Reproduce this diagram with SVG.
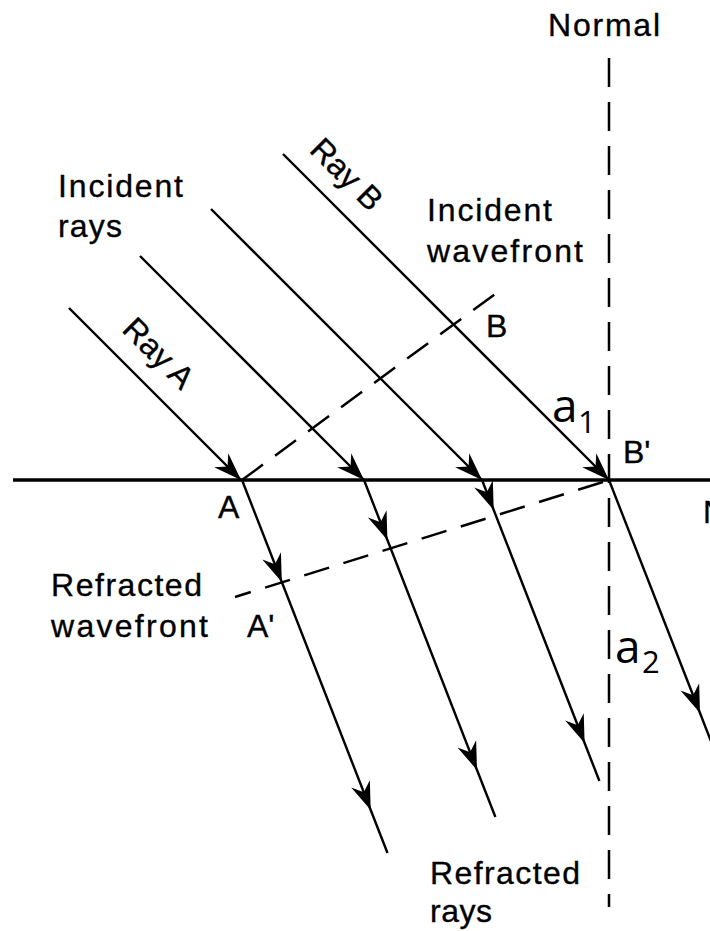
<svg xmlns="http://www.w3.org/2000/svg" width="710" height="931" viewBox="0 0 710 931">
<style>
  .ray{stroke:#000;stroke-width:2.4;fill:none}
  .wf{stroke:#000;stroke-width:2.5;fill:none;stroke-dasharray:26 15}
  .nrm{stroke:#000;stroke-width:2.5;fill:none;stroke-dasharray:29 15}
  .surf{stroke:#000;stroke-width:3.5;fill:none}
  .lbl{font-family:"Liberation Sans",Arial,Helvetica,sans-serif;font-size:32px;fill:#000;stroke:#000;stroke-width:0.35}
  .ang{font-family:"Open Sans","Noto Sans",sans-serif;fill:#000}
</style>
<defs>
  <marker id="ah" markerUnits="userSpaceOnUse" markerWidth="32" markerHeight="24" viewBox="-30 -12 32 24" refX="0" refY="0" orient="auto">
    <path d="M0,0 L-28,-10 L-19,0 L-28,10 Z" fill="#000"/>
  </marker>
</defs>
<rect width="710" height="931" fill="#fff"/>
<g id="connectors">
  <path id="interface" class="surf" d="M13,480 L710,480"/>
  <path id="normal" class="nrm" d="M609,58 L609,907"/>
  <path id="incident-wavefront" class="wf" d="M242,480 L506,286"/>
  <path id="refracted-wavefront" class="wf" d="M603,482 L235,597"/>
  <path id="rayA-in" class="ray" d="M69,308 L241,480" marker-end="url(#ah)"/>
  <path id="ray2-in" class="ray" d="M140,256 L364,480" marker-end="url(#ah)"/>
  <path id="ray3-in" class="ray" d="M211,209 L482,480" marker-end="url(#ah)"/>
  <path id="rayB-in" class="ray" d="M283,154 L609,480" marker-end="url(#ah)"/>
  <path id="rayA-out" class="ray" d="M242,480 L281.8,582 L370.7,810 L387.5,853" marker-mid="url(#ah)"/>
  <path id="ray2-out" class="ray" d="M364,480 L387.4,540 L477,770 L495.4,817" marker-mid="url(#ah)"/>
  <path id="ray3-out" class="ray" d="M482,480 L493.7,510 L584.6,743 L599.4,781" marker-mid="url(#ah)"/>
  <path id="rayB-out" class="ray" d="M609,480 L700,713 L714,749" marker-mid="url(#ah)"/>
</g>
<g id="labels">
  <text id="t-normal" class="lbl" x="548" y="36" font-size="33" textLength="112" lengthAdjust="spacing">Normal</text>
  <g id="t-incident-rays">
    <text class="lbl" x="58" y="197" textLength="125" lengthAdjust="spacing">Incident</text>
    <text class="lbl" x="58" y="237" textLength="64" lengthAdjust="spacing">rays</text>
  </g>
  <g id="t-incident-wavefront">
    <text class="lbl" x="427" y="221" textLength="125" lengthAdjust="spacing">Incident</text>
    <text class="lbl" x="427" y="262" textLength="156" lengthAdjust="spacing">wavefront</text>
  </g>
  <text id="t-rayA" class="lbl" transform="translate(151,361) rotate(45)" text-anchor="middle">Ray A</text>
  <text id="t-rayB" class="lbl" transform="translate(339,182) rotate(45)" text-anchor="middle">Ray B</text>
  <text id="t-B" class="lbl" x="486" y="337">B</text>
  <text id="t-Bp" class="lbl" x="623" y="463" font-size="30">B'</text>
  <text id="t-A" class="lbl" x="218" y="518">A</text>
  <text id="t-Ap" class="lbl" x="247" y="637" font-size="28">A'</text>
  <text id="t-N" class="lbl" x="703" y="523">N</text>
  <g id="t-refracted-wavefront">
    <text class="lbl" x="51" y="596" textLength="151" lengthAdjust="spacing">Refracted</text>
    <text class="lbl" x="51" y="637" textLength="157" lengthAdjust="spacing">wavefront</text>
  </g>
  <g id="t-refracted-rays">
    <text class="lbl" x="430" y="884" textLength="150" lengthAdjust="spacing">Refracted</text>
    <text class="lbl" x="430" y="922" textLength="62" lengthAdjust="spacing">rays</text>
  </g>
  <text id="t-a1" class="ang"><tspan x="552" y="422" font-size="46">a</tspan><tspan x="578" y="433" font-size="31">1</tspan></text>
  <text id="t-a2" class="ang"><tspan x="615" y="663" font-size="46">a</tspan><tspan x="642" y="673" font-size="31">2</tspan></text>
</g>
</svg>
